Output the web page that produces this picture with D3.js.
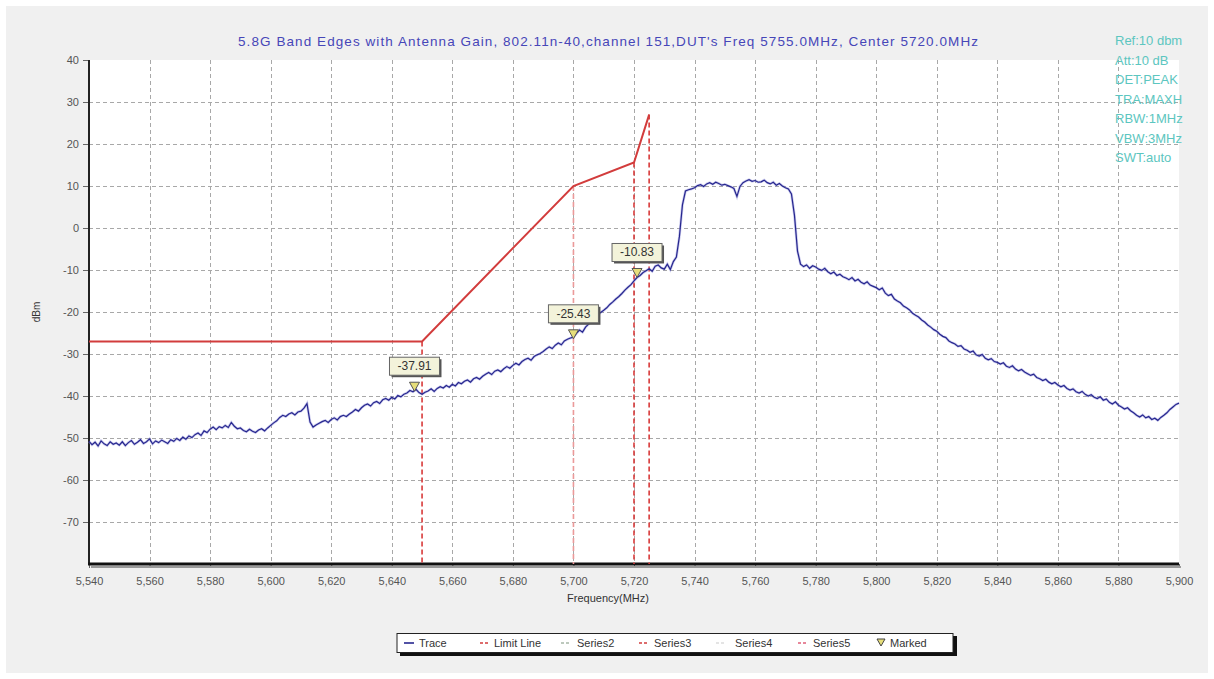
<!DOCTYPE html>
<html>
<head>
<meta charset="utf-8">
<script src="https://cdn.jsdelivr.net/npm/d3@7"></script>
<style>
  html, body { margin: 0; padding: 0; background: #ffffff; }
  svg { display: block; font-family: Arial, "Liberation Sans", sans-serif; }
</style>
</head>
<body>
<svg id="chart" width="1214" height="679"></svg>
<script>
// ---- Measured spectrum (peak detector, max hold), one point per MHz ----
const traceStartMHz = 5540;
const traceStepMHz = 1;
const traceDbm = [
  -50.8,-51.6,-51.0,-51.9,-50.7,-51.4,-51.8,-50.9,-51.5,-51.2,
  -51.7,-50.9,-51.8,-51.1,-50.6,-51.5,-51.0,-50.4,-51.3,-50.9,
  -50.2,-51.4,-50.7,-51.1,-50.5,-50.9,-51.3,-50.4,-50.8,-50.1,
  -50.6,-49.8,-50.3,-49.5,-49.9,-49.2,-48.8,-49.4,-48.3,-48.7,
  -47.9,-47.4,-48.0,-47.3,-47.6,-47.0,-47.5,-46.3,-47.2,-47.8,
  -47.6,-48.2,-48.5,-47.9,-48.4,-48.7,-48.1,-47.8,-48.3,-47.6,
  -47.0,-46.4,-45.9,-45.1,-44.6,-44.9,-44.3,-44.0,-44.5,-43.8,
  -43.6,-42.9,-41.8,-46.2,-47.4,-46.9,-46.5,-46.1,-45.8,-46.3,
  -45.6,-45.2,-45.7,-44.9,-44.6,-44.9,-44.3,-43.8,-43.2,-43.6,
  -42.8,-42.2,-41.9,-42.4,-41.6,-41.3,-41.8,-40.9,-40.6,-41.0,
  -40.3,-40.7,-39.9,-40.2,-39.6,-39.3,-38.7,-39.0,-38.4,-39.2,
  -39.6,-39.1,-38.8,-38.3,-38.9,-38.2,-37.8,-38.1,-37.5,-37.9,
  -37.2,-37.6,-36.8,-37.1,-36.5,-36.2,-36.7,-35.9,-35.6,-36.0,
  -35.3,-34.8,-34.4,-34.9,-34.1,-33.8,-34.2,-33.5,-33.0,-33.4,
  -32.7,-32.2,-32.6,-31.8,-31.3,-31.0,-31.5,-30.6,-30.2,-29.9,
  -29.4,-28.8,-28.3,-28.7,-27.9,-27.4,-27.8,-26.9,-26.5,-26.2,
  -26.0,-25.1,-24.3,-24.8,-23.6,-22.9,-22.2,-21.5,-20.8,-20.1,
  -19.6,-19.0,-18.2,-17.6,-16.9,-16.3,-15.6,-14.8,-14.1,-13.5,
  -12.6,-11.8,-11.3,-10.6,-10.2,-9.7,-10.3,-9.1,-8.8,-9.5,
  -9.8,-8.6,-9.9,-8.0,-6.9,-2.0,5.5,8.8,9.1,9.3,
  9.6,10.1,10.3,9.9,10.5,10.8,10.4,10.9,10.6,10.2,
  10.4,10.1,9.8,9.4,7.5,9.9,10.8,11.2,11.5,11.1,
  11.3,10.9,11.0,11.4,10.8,10.5,10.9,10.2,10.6,10.0,
  9.6,9.3,8.1,3.0,-5.5,-8.6,-9.2,-8.8,-9.6,-9.0,
  -9.3,-9.8,-10.1,-9.6,-10.4,-10.9,-10.5,-11.3,-11.0,-11.6,
  -11.9,-12.3,-11.8,-12.6,-12.2,-12.9,-13.3,-12.8,-13.6,-13.9,
  -14.2,-14.7,-14.3,-15.5,-16.1,-15.8,-16.9,-17.4,-17.8,-18.6,
  -19.0,-19.5,-20.3,-20.8,-21.2,-21.9,-22.4,-23.1,-23.6,-24.2,
  -24.6,-25.3,-25.8,-26.1,-26.9,-27.3,-27.6,-28.2,-28.0,-28.8,
  -29.1,-29.6,-29.3,-30.2,-30.5,-30.1,-31.0,-31.4,-31.1,-31.8,
  -32.0,-32.4,-32.1,-32.9,-33.2,-32.8,-33.6,-34.0,-33.7,-34.3,
  -34.7,-35.1,-34.8,-35.6,-35.9,-36.3,-36.0,-36.7,-37.1,-36.8,
  -37.4,-37.8,-37.5,-38.2,-38.6,-38.3,-39.0,-39.3,-38.9,-39.6,
  -40.0,-39.7,-40.3,-40.6,-40.2,-41.0,-40.7,-41.5,-41.9,-41.4,
  -42.2,-42.6,-43.1,-42.8,-43.5,-44.0,-44.6,-45.0,-44.5,-45.2,
  -44.9,-45.6,-45.3,-45.8,-45.1,-44.6,-44.0,-43.2,-42.6,-42.0,
  -41.7
];

// ---- Band-edge limit line (dBm) ----
const limitFreq = [5540, 5650, 5700, 5720, 5725];
const limitDbm  = [-27, -27, 10, 15.6, 27];

// ---- Vertical markers at the limit breakpoints ----
const edgeFreq   = [5650, 5700, 5720, 5725];
const edgeTopDbm = [-27, 10, 15.6, 27];
const edgeSeries = ["Series2", "Series3", "Series4", "Series5"];

// ---- Marked points ----
const markerFreq = [5647.5, 5700, 5721];
const markerDbm  = [-37.91, -25.43, -10.83];

// ---- Axis ticks ----
const xTickValues = [5540, 5560, 5580, 5600, 5620, 5640, 5660, 5680, 5700, 5720,
                     5740, 5760, 5780, 5800, 5820, 5840, 5860, 5880, 5900];
const yTickValues = [40, 30, 20, 10, 0, -10, -20, -30, -40, -50, -60, -70];

// ---- Text ----
const chartTitle = "5.8G Band Edges with Antenna Gain, 802.11n-40,channel 151,DUT's Freq 5755.0MHz, Center 5720.0MHz";
const analyzerSettings = ["Ref:10 dbm", "Att:10 dB", "DET:PEAK", "TRA:MAXH", "RBW:1MHz", "VBW:3MHz", "SWT:auto"];
const legendNames = ["Trace", "Limit Line", "Series2", "Series3", "Series4", "Series5", "Marked"];

// ================= drawing =================
const svg = d3.select("#chart");
const W = 1214, H = 679;
const plot = { left: 89, right: 1179, top: 60, bottom: 564 };
const FONT = "Arial, 'Liberation Sans', sans-serif";

const x = d3.scaleLinear().domain([5540, 5900]).range([plot.left, plot.right]);
const y = d3.scaleLinear().domain([-80, 40]).range([plot.bottom, plot.top]);

// plain hyphen-minus for negative numbers, as the analyzer software prints them
const intFmt = d => String(d);
const thousands = d3.format(",d");
const fmt2 = d => d.toFixed(2);

// outer panel
svg.append("rect").attr("x", 6).attr("y", 6).attr("width", W - 12).attr("height", H - 12)
   .attr("fill", "#f0f0f0");

// plot area
svg.append("rect").attr("x", plot.left).attr("y", plot.top)
   .attr("width", plot.right - plot.left).attr("height", plot.bottom - plot.top)
   .attr("fill", "#ffffff");

// grid
const grid = svg.append("g").attr("stroke", "#a8a8a8").attr("stroke-width", 1)
   .attr("stroke-dasharray", "4,3");
grid.selectAll("line.gx").data(xTickValues.filter(v => v > 5540 && v < 5900)).join("line")
   .attr("x1", d => Math.round(x(d)) + 0.5).attr("x2", d => Math.round(x(d)) + 0.5)
   .attr("y1", plot.top).attr("y2", plot.bottom);
grid.selectAll("line.gy").data(yTickValues.filter(v => v < 40)).join("line")
   .attr("x1", plot.left).attr("x2", plot.right)
   .attr("y1", d => Math.round(y(d)) + 0.5).attr("y2", d => Math.round(y(d)) + 0.5);

// y axis
const yAxis = d3.axisLeft(y).tickValues(yTickValues).tickSize(6).tickPadding(4).tickFormat(intFmt);
const gy = svg.append("g").attr("transform", `translate(${plot.left},0)`).call(yAxis);
gy.select(".domain").remove();
gy.selectAll(".tick line").attr("stroke", "#666");
gy.selectAll(".tick text").attr("fill", "#555").attr("font-size", 11).attr("font-family", FONT);

// x axis
const xAxis = d3.axisBottom(x).tickValues(xTickValues).tickSize(4).tickPadding(9).tickFormat(thousands);
const gx = svg.append("g").attr("transform", `translate(0,${plot.bottom})`).call(xAxis);
gx.select(".domain").remove();
gx.selectAll(".tick line").attr("stroke", "#666");
gx.selectAll(".tick text").attr("fill", "#555").attr("font-size", 11).attr("font-family", FONT);

// axis frame lines (left and bottom, bottom with a drop shadow)
svg.append("line").attr("x1", plot.left + 2).attr("x2", plot.right + 2)
   .attr("y1", plot.bottom + 3).attr("y2", plot.bottom + 3)
   .attr("stroke", "#9a9a9a").attr("stroke-width", 2);
svg.append("line").attr("x1", plot.left).attr("x2", plot.left)
   .attr("y1", plot.top).attr("y2", plot.bottom + 1)
   .attr("stroke", "#222").attr("stroke-width", 2);
svg.append("line").attr("x1", plot.left - 1).attr("x2", plot.right)
   .attr("y1", plot.bottom).attr("y2", plot.bottom)
   .attr("stroke", "#111").attr("stroke-width", 3);

// vertical band-edge lines
const edgeColor = { Series2: "#d83a3a", Series3: "#eb9a9a", Series4: "#d83a3a", Series5: "#d83a3a" };
svg.append("g").selectAll("line").data(edgeFreq.map((f, i) => ({ f, top: edgeTopDbm[i], s: edgeSeries[i] })))
   .join("line")
   .attr("x1", d => x(d.f)).attr("x2", d => x(d.f))
   .attr("y1", d => y(d.top)).attr("y2", plot.bottom)
   .attr("stroke", d => edgeColor[d.s]).attr("stroke-width", 1.6)
   .attr("stroke-dasharray", "5,3");

// limit line
const limitPts = limitFreq.map((f, i) => [f, limitDbm[i]]);
svg.append("path").datum(limitPts)
   .attr("d", d3.line().x(d => x(d[0])).y(d => y(d[1])))
   .attr("fill", "none").attr("stroke", "#d23c3c").attr("stroke-width", 2);

// trace
const tracePts = traceDbm.map((v, i) => [traceStartMHz + i * traceStepMHz, v]);
svg.append("path").datum(tracePts)
   .attr("d", d3.line().x(d => x(d[0])).y(d => y(d[1])))
   .attr("fill", "none").attr("stroke", "#8a8ad8").attr("stroke-width", 2.6).attr("opacity", 0.45);
svg.append("path").datum(tracePts)
   .attr("d", d3.line().x(d => x(d[0])).y(d => y(d[1])))
   .attr("fill", "none").attr("stroke", "#26268e").attr("stroke-width", 1.2);

// markers
const markers = svg.append("g").selectAll("g").data(markerFreq.map((f, i) => ({ f, v: markerDbm[i] })))
   .join("g").attr("transform", d => `translate(${x(d.f)},${y(d.v)})`);
markers.append("path").attr("d", "M-5,-5 L5,-5 L0,4 Z")
   .attr("fill", "#e6de7a").attr("stroke", "#555").attr("stroke-width", 1);
markers.append("rect").attr("x", -23).attr("y", -28).attr("width", 50).attr("height", 18)
   .attr("fill", "#555");
markers.append("rect").attr("x", -25).attr("y", -30).attr("width", 50).attr("height", 18)
   .attr("fill", "#f3f3da").attr("stroke", "#666").attr("stroke-width", 1);
markers.append("text").attr("x", 0).attr("y", -17).attr("text-anchor", "middle")
   .attr("font-size", 12).attr("fill", "#333").text(d => fmt2(d.v));

// title
svg.append("text").attr("x", 608).attr("y", 46).attr("text-anchor", "middle")
   .attr("font-size", 13.5).attr("fill", "#4646b8")
   .attr("textLength", 740).attr("lengthAdjust", "spacing").text(chartTitle);

// analyzer settings
svg.append("g").selectAll("text").data(analyzerSettings).join("text")
   .attr("x", 1115).attr("y", (d, i) => 45 + i * 19.5)
   .attr("font-size", 13).attr("fill", "#5cc6c0").text(d => d);

// axis titles
svg.append("text").attr("x", 608).attr("y", 602).attr("text-anchor", "middle")
   .attr("font-size", 11).attr("fill", "#333").text("Frequency(MHz)");
svg.append("text").attr("transform", "translate(40,312) rotate(-90)").attr("text-anchor", "middle")
   .attr("font-size", 10).attr("fill", "#333").text("dBm");

// legend
const lg = svg.append("g");
lg.append("rect").attr("x", 400).attr("y", 636).attr("width", 557).attr("height", 20).attr("fill", "#111");
lg.append("rect").attr("x", 397).attr("y", 633.5).attr("width", 556).attr("height", 19)
   .attr("fill", "#ffffff").attr("stroke", "#222").attr("stroke-width", 1);
const legendLayout = [
  { sx: 404, tx: 419, color: "#26268e", dash: null },
  { sx: 480, tx: 494, color: "#d23c3c", dash: "3,2" },
  { sx: 561, tx: 577, color: "#a8b8a8", dash: "3,2" },
  { sx: 639, tx: 654, color: "#d23c3c", dash: "3,2" },
  { sx: 716, tx: 735, color: "#dcdcdc", dash: "3,2" },
  { sx: 798, tx: 813, color: "#e0607a", dash: "3,2" },
  { sx: 877, tx: 890, color: null, dash: null }
];
legendNames.forEach((name, i) => {
  const L = legendLayout[i];
  const cy = 643;
  if (name === "Marked") {
    lg.append("path").attr("d", `M${L.sx},${cy - 4} L${L.sx + 8},${cy - 4} L${L.sx + 4},${cy + 3} Z`)
      .attr("fill", "#e6de7a").attr("stroke", "#444").attr("stroke-width", 1);
  } else {
    lg.append("line").attr("x1", L.sx).attr("x2", L.sx + 10).attr("y1", cy).attr("y2", cy)
      .attr("stroke", L.color).attr("stroke-width", 1.6)
      .attr("stroke-dasharray", L.dash);
  }
  lg.append("text").attr("x", L.tx).attr("y", cy + 4).attr("font-size", 11).attr("fill", "#333").text(name);
});
</script>
</body>
</html>
